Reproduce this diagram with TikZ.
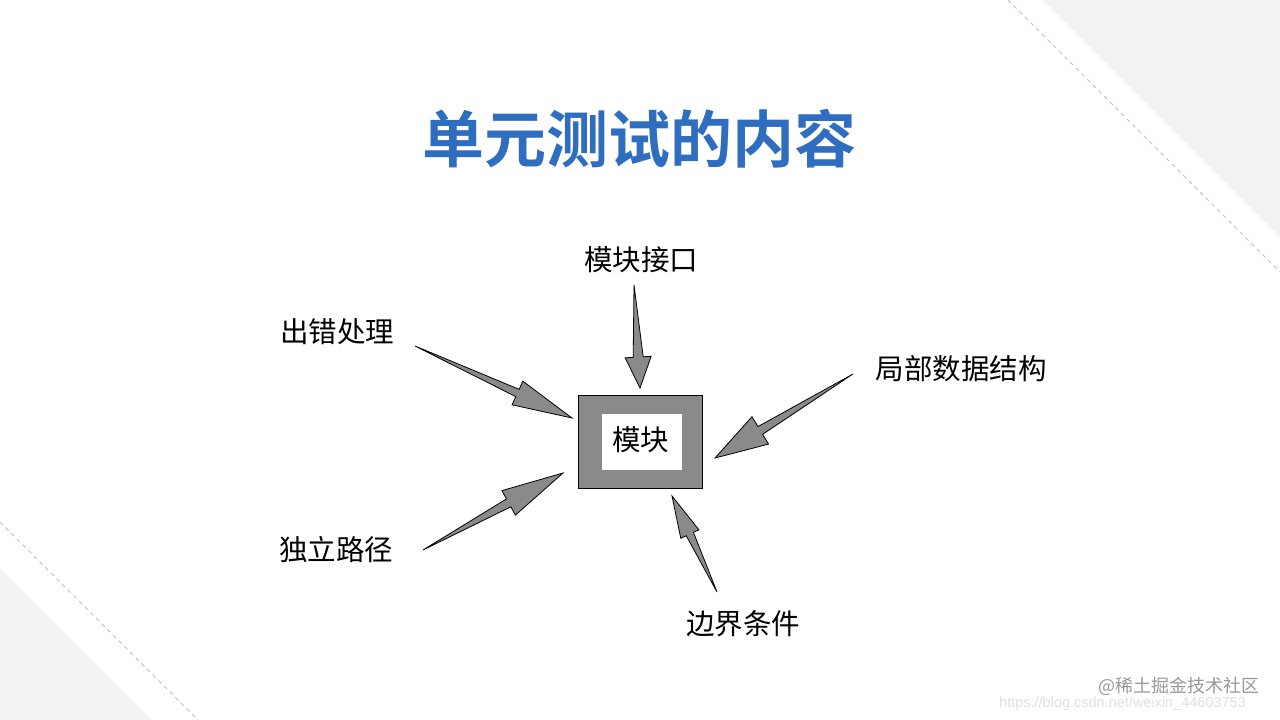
\documentclass[tikz,border=0pt]{standalone}
\usepackage{fontspec}
\setmainfont{Liberation Sans}
\newfontfamily\cjk[BoldFont={Noto Sans CJK SC Bold}]{Noto Sans CJK SC}
\usetikzlibrary{calc}
\definecolor{titleblue}{RGB}{46,109,191}
\definecolor{dither}{RGB}{138,138,138}
\definecolor{pagegray}{RGB}{242,242,242}
\definecolor{dashgray}{RGB}{190,190,190}

% tail, tip, head length, head half width, shaft half width
\newcommand{\blockarrow}[5]{%
    \draw[arrowbody] (#1)
        -- ($(#2)!#3!(#1)!#5!90:(#1)$)
        -- ($(#2)!#3!(#1)!#4!90:(#1)$)
        -- (#2)
        -- ($(#2)!#3!(#1)!#4!-90:(#1)$)
        -- ($(#2)!#3!(#1)!#5!-90:(#1)$)
        -- cycle;}

\begin{document}
\begin{tikzpicture}[x=1pt,y=-1pt,
        label/.style={font=\cjk\fontsize{28.5}{30}\selectfont,inner sep=0pt},
        arrowbody/.style={draw=black,fill=dither,line join=miter,line width=0.8pt}]
        \useasboundingbox (0,0) rectangle (1280,720);
        \fill[white] (0,0) rectangle (1280,720);
        \begin{scope}
            \fill[pagegray] (1043,0) -- (1280,0) -- (1280,237) -- cycle;
            \fill[pagegray] (0,568) -- (152,720) -- (0,720) -- cycle;
            \draw[dashgray,line width=1pt,dash pattern=on 4pt off 4pt] (1008,0) -- (1280,272);
            \draw[dashgray,line width=1pt,dash pattern=on 4pt off 4pt] (0,522) -- (198,720);
        \end{scope}
        \node[font=\cjk\bfseries\fontsize{62}{64}\selectfont,text=titleblue,inner sep=0pt] (title) at (639,139) {单元测试的内容};
        \begin{scope}
            \node[draw=black,fill=dither,line width=0.8pt,minimum width=124pt,minimum height=93pt,inner sep=0pt] (modout) at (640,441.5) {};
            \node[fill=white,minimum width=80pt,minimum height=56pt,inner sep=0pt] (modin) at (642,442) {};
            \node[label] (mod) at (640.5,440) {模块};
            \node[label] (iface) at (641,260) {模块接口};
            \node[label] (err) at (337,332) {出错处理};
            \node[label] (data) at (961,369) {局部数据结构};
            \node[label] (path) at (336,550) {独立路径};
            \node[label] (bound) at (743,624) {边界条件};
        \end{scope}
        \begin{scope}
            \coordinate (ifaceT) at (634,285);
            \coordinate (ifaceP) at (640,388);
            \coordinate (errT) at (415,346);
            \coordinate (errP) at (572,418);
            \coordinate (dataT) at (853,374);
            \coordinate (dataP) at (715,458);
            \coordinate (pathT) at (423,550);
            \coordinate (pathP) at (563,473);
            \coordinate (boundT) at (717,592);
            \coordinate (boundP) at (672,496);
            \blockarrow{ifaceT}{ifaceP}{31pt}{13pt}{5pt}
            \blockarrow{errT}{errP}{60pt}{13pt}{4pt}
            \blockarrow{dataT}{dataP}{53pt}{16pt}{4.5pt}
            \blockarrow{pathT}{pathP}{62pt}{14pt}{4.5pt}
            \blockarrow{boundT}{boundP}{42pt}{10pt}{4pt}
        \end{scope}
        \node[font=\fontsize{14.5}{15}\selectfont,text=black!12,anchor=base west,inner sep=0pt] (url) at (999,707.5) {https://blog.csdn.net/weixin\_44603753};
        \node[font=\cjk\fontsize{18}{20}\selectfont,text=black!40,anchor=west,inner sep=0pt] (mark) at (1098,686) {@稀土掘金技术社区};
    \end{tikzpicture}
\end{document}
